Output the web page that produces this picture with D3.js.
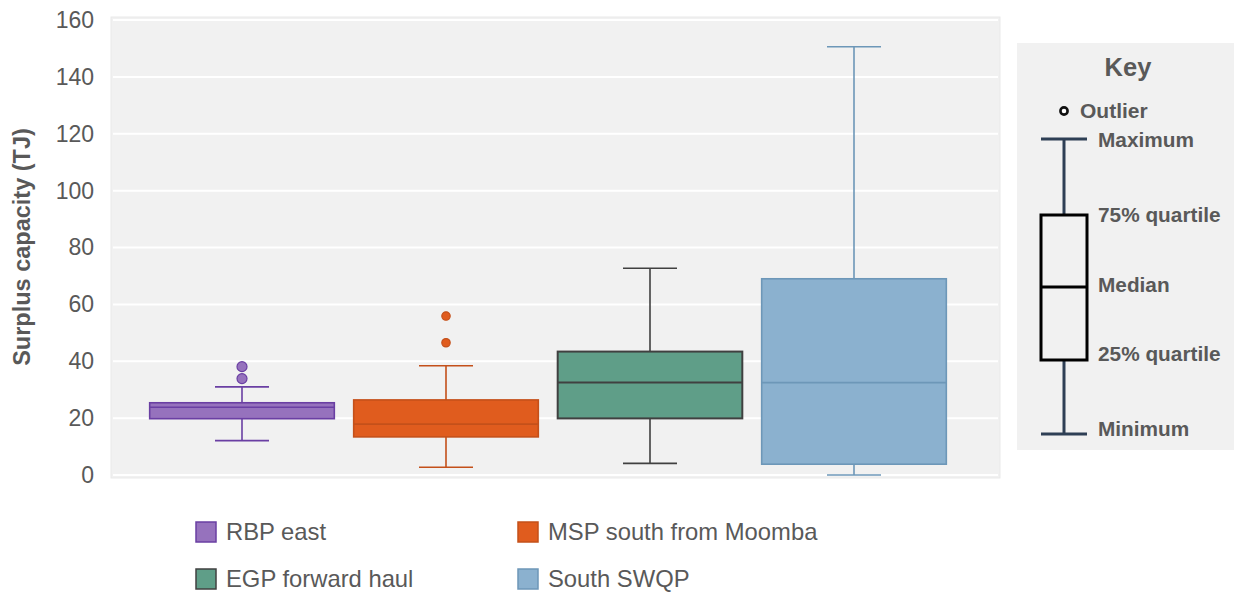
<!DOCTYPE html>
<html>
<head>
<meta charset="utf-8">
<script src="https://cdn.jsdelivr.net/npm/d3@7"></script>
<style>
  html, body { margin: 0; padding: 0; background: #ffffff; }
  svg { display: block; font-family: "Liberation Sans", Arial, sans-serif; }
</style>
</head>
<body>
<svg id="chart" width="1234" height="594"></svg>
<script>
// ---- Data ----
const categories = ["RBP east", "MSP south from Moomba", "EGP forward haul", "South SWQP"];
const minimum  = [12.1, 2.7, 4.1, 0.0];
const q1       = [19.8, 13.4, 19.9, 3.8];
const median   = [23.8, 17.9, 32.5, 32.5];
const q3       = [25.4, 26.4, 43.4, 69.0];
const maximum  = [31.0, 38.4, 72.7, 150.6];
const outliers = [[33.9, 38.1], [46.5, 55.9], [], []];
const yTicks   = [0, 20, 40, 60, 80, 100, 120, 140, 160];
const fills    = ["#9672bd", "#e05c1e", "#5f9e88", "#8bb1cf"];
const strokes  = ["#6a3fa3", "#c4501a", "#404040", "#6d97b8"];
const keyLabels = ["Maximum", "75% quartile", "Median", "25% quartile", "Minimum"];

const svg = d3.select("#chart");
const plot = { left: 111, right: 1000, top: 17, bottom: 478 };

const y = d3.scaleLinear().domain([0, 160]).range([475, 20]);
const x = d3.scaleBand().domain(categories).range([140, 956]).paddingInner(0).paddingOuter(0);
const boxW = x.bandwidth() * 0.905;
const capW = 54;

// Plot background
svg.append("rect")
  .attr("x", plot.left).attr("y", plot.top)
  .attr("width", plot.right - plot.left).attr("height", plot.bottom - plot.top)
  .attr("fill", "#f1f1f1").attr("stroke", "#e9e9e9").attr("stroke-width", 1);

// Gridlines
svg.append("g").selectAll("line").data(yTicks).join("line")
  .attr("x1", plot.left + 2).attr("x2", plot.right - 2)
  .attr("y1", d => y(d)).attr("y2", d => y(d))
  .attr("stroke", "#ffffff").attr("stroke-width", 2);

// Y axis
const yAxis = d3.axisLeft(y).tickValues(yTicks).tickSize(0).tickPadding(0);
const gy = svg.append("g").attr("transform", "translate(94,0)").call(yAxis);
gy.select(".domain").remove();
gy.selectAll("text")
  .attr("font-family", "Liberation Sans, Arial, sans-serif")
  .attr("font-size", 23).attr("fill", "#595959");

// Y axis title
svg.append("text")
  .attr("transform", "translate(30,247) rotate(-90)")
  .attr("text-anchor", "middle")
  .attr("font-size", 23.5).attr("font-weight", "bold").attr("fill", "#595959")
  .text("Surplus capacity (TJ)");

// Boxes
const g = svg.append("g");
categories.forEach((c, i) => {
  const cx = x(c) + x.bandwidth() / 2;
  const gg = g.append("g");
  const sw = i === 2 ? 2 : 1.6;
  gg.append("line").attr("x1", cx).attr("x2", cx)
    .attr("y1", y(maximum[i])).attr("y2", y(q3[i]))
    .attr("stroke", strokes[i]).attr("stroke-width", 1.6);
  gg.append("line").attr("x1", cx).attr("x2", cx)
    .attr("y1", y(q1[i])).attr("y2", y(minimum[i]))
    .attr("stroke", strokes[i]).attr("stroke-width", 1.6);
  [maximum[i], minimum[i]].forEach(v => {
    gg.append("line").attr("x1", cx - capW / 2).attr("x2", cx + capW / 2)
      .attr("y1", y(v)).attr("y2", y(v))
      .attr("stroke", strokes[i]).attr("stroke-width", 1.6);
  });
  gg.append("rect")
    .attr("x", cx - boxW / 2).attr("width", boxW)
    .attr("y", y(q3[i])).attr("height", y(q1[i]) - y(q3[i]))
    .attr("fill", fills[i]).attr("stroke", strokes[i]).attr("stroke-width", sw);
  gg.append("line").attr("x1", cx - boxW / 2).attr("x2", cx + boxW / 2)
    .attr("y1", y(median[i])).attr("y2", y(median[i]))
    .attr("stroke", strokes[i]).attr("stroke-width", sw);
  gg.selectAll("circle").data(outliers[i]).join("circle")
    .attr("cx", cx).attr("cy", d => y(d))
    .attr("r", i === 0 ? 5 : 4.2)
    .attr("fill", fills[i]).attr("stroke", strokes[i]).attr("stroke-width", 1.2);
});

// Legend
const legPos = [[196, 532], [518, 532], [196, 579], [518, 579]];
const leg = svg.append("g");
categories.forEach((c, i) => {
  const [lx, ly] = legPos[i];
  leg.append("rect").attr("x", lx).attr("y", ly - 10).attr("width", 20).attr("height", 20)
    .attr("fill", fills[i]).attr("stroke", strokes[i]).attr("stroke-width", 1.5);
  leg.append("text").attr("x", lx + 30).attr("y", ly).attr("dy", "0.35em")
    .attr("font-size", 23.8).attr("fill", "#595959").text(c);
});

// Key panel
const key = svg.append("g");
key.append("rect").attr("x", 1017).attr("y", 43).attr("width", 217).attr("height", 407)
  .attr("fill", "#f1f1f1");
key.append("text").attr("x", 1128).attr("y", 67).attr("dy", "0.35em")
  .attr("text-anchor", "middle").attr("font-size", 25.5).attr("font-weight", "bold")
  .attr("fill", "#595959").text("Key");
key.append("circle").attr("cx", 1064).attr("cy", 111).attr("r", 3.6)
  .attr("fill", "#ffffff").attr("stroke", "#111111").attr("stroke-width", 2.6);
key.append("text").attr("x", 1080).attr("y", 111).attr("dy", "0.35em")
  .attr("font-size", 21).attr("font-weight", "bold").attr("fill", "#595959").text("Outlier");
const kc = 1064, kw = 46;
const ky = { max: 139, q3: 215, med: 287, q1: 360, min: 434 };
key.append("line").attr("x1", kc).attr("x2", kc).attr("y1", ky.max).attr("y2", ky.q3)
  .attr("stroke", "#2e3f55").attr("stroke-width", 3);
key.append("line").attr("x1", kc).attr("x2", kc).attr("y1", ky.q1).attr("y2", ky.min)
  .attr("stroke", "#2e3f55").attr("stroke-width", 3);
[ky.max, ky.min].forEach(v => key.append("line")
  .attr("x1", kc - kw / 2).attr("x2", kc + kw / 2).attr("y1", v).attr("y2", v)
  .attr("stroke", "#2e3f55").attr("stroke-width", 3));
key.append("rect").attr("x", kc - kw / 2).attr("y", ky.q3).attr("width", kw)
  .attr("height", ky.q1 - ky.q3).attr("fill", "none").attr("stroke", "#000000").attr("stroke-width", 3);
key.append("line").attr("x1", kc - kw / 2).attr("x2", kc + kw / 2).attr("y1", ky.med).attr("y2", ky.med)
  .attr("stroke", "#000000").attr("stroke-width", 3);
const keyY = [140, 215, 285, 354, 429];
key.selectAll("text.kl").data(keyLabels).join("text").attr("class", "kl")
  .attr("x", 1098).attr("y", (d, i) => keyY[i]).attr("dy", "0.35em")
  .attr("font-size", 20.8).attr("font-weight", "bold").attr("fill", "#595959").text(d => d);
</script>
</body>
</html>
